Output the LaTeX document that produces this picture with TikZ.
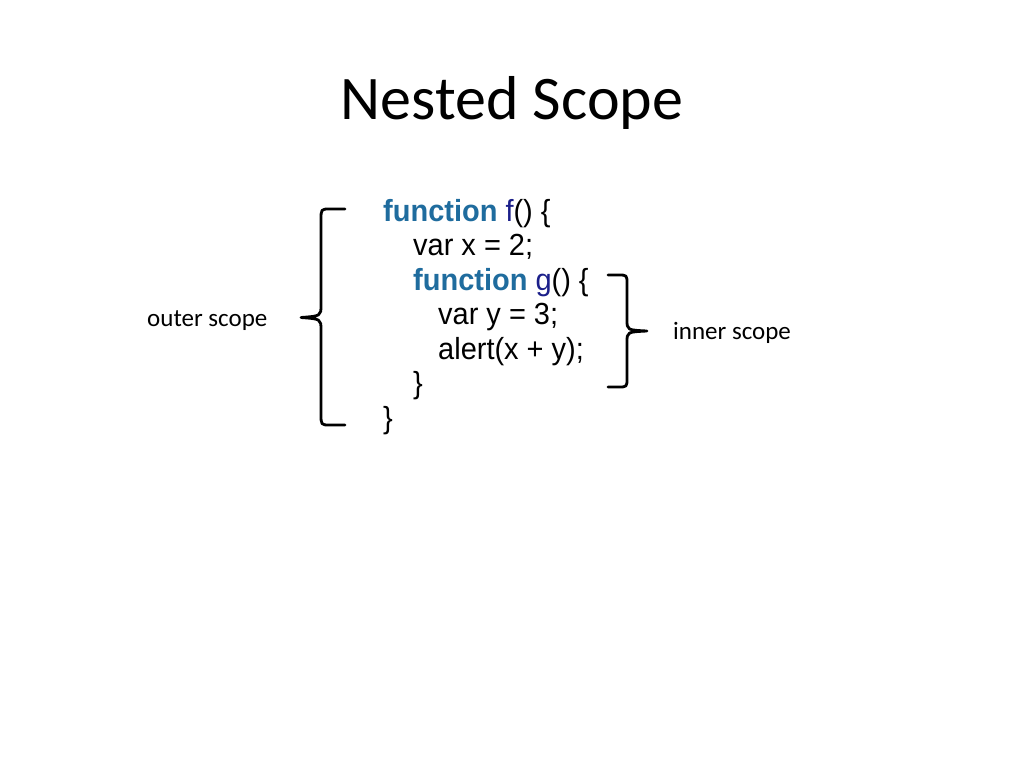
\documentclass[tikz,border=0pt]{standalone}
\usepackage{fontspec}
\setmainfont{Carlito}
\newfontfamily\codefont[FakeStretch=0.95]{Liberation Sans}
\definecolor{kwblue}{HTML}{1F6C9E}
\definecolor{fnnavy}{HTML}{1B1F8A}
\tikzset{
  code/.style={anchor=base west, inner sep=0pt, font=\codefont\fontsize{30.5}{34}\selectfont},
  lbl/.style={anchor=base west, inner sep=0pt, font=\fontsize{25}{30}\selectfont},
  brace/.style={line width=2.8pt, line cap=round, line join=round}
}
\begin{document}
\begin{tikzpicture}[x=1pt,y=-1pt]
\useasboundingbox (0,0) rectangle (1024,768);
\fill[white] (0,0) rectangle (1024,768);
\node[anchor=base, inner sep=0pt, font=\fontsize{62}{70}\selectfont] (title) at (512,119) {Nested Scope};
\node[code] (l1) at (383,221) {\textbf{\color{kwblue}function} \color{fnnavy}f\color{black}() \{};
\node[code] (l2) at (413,255.5) {var x = 2;};
\node[code] (l3) at (413,290) {\textbf{\color{kwblue}function} \color{fnnavy}g\color{black}() \{};
\node[code] (l4) at (438,324.5) {var y = 3;};
\node[code] (l5) at (438,359) {alert(x + y);};
\node[code] (l6) at (413,393.5) {\}};
\node[code] (l7) at (383,428) {\}};
\node[lbl] (outer) at (147,326) {outer scope};
\node[lbl] (inner) at (673,339) {inner scope};
% outer brace
\draw[brace] (345,209) -- (330,209) .. controls (321,209) .. (321,220) -- (321,305)
  .. controls (321,316) .. (301,317.5) .. controls (321,319) .. (321,330) -- (321,414)
  .. controls (321,425) .. (330,425) -- (345,425);
% inner brace
\draw[brace] (608,275) -- (618,275) .. controls (627,275) .. (627,284) -- (627,320)
  .. controls (627,330) .. (647,331) .. controls (627,332) .. (627,342) -- (627,378)
  .. controls (627,387) .. (618,387) -- (608,387);
\end{tikzpicture}
\end{document}
